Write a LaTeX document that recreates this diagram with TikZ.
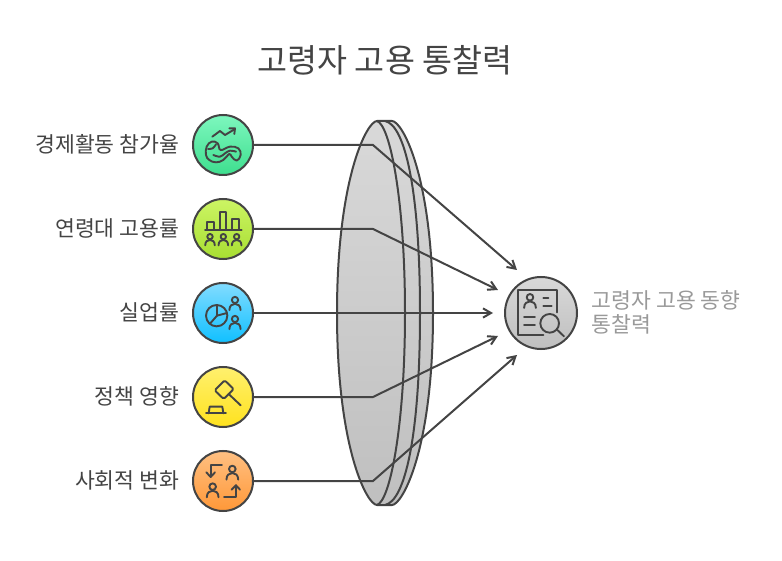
\documentclass[tikz,border=0pt]{standalone}
\usepackage{fontspec}
\setmainfont{Noto Sans CJK KR}
\usetikzlibrary{arrows.meta}
\definecolor{ink}{HTML}{444444}
\tikzset{
  x=1pt,y=-1pt,
  conn/.style={draw=ink,line width=2pt,line join=miter},
  tip/.style={-{Straight Barb[length=8pt,width=16pt,line width=2pt,angle'=60]}},
  badge/.style={circle,draw=ink,line width=2pt,minimum size=60pt,inner sep=0pt},
  lab/.style={text=ink,font=\fontsize{21.6}{25}\selectfont,anchor=east,inner sep=0pt},
  icon/.style={draw=ink,line width=1.9pt,line cap=round,line join=round},
  lensf/.style={draw=ink,line width=2pt,line join=round},
  zoomed/.style={x=0.3333pt,y=-0.3333pt},
}
\newcommand{\personz}[3]{% cx, top of head y, scale
  \draw[icon] (#1,#2) circle[radius=#3*9];
  \draw[icon] (#1-#3*16,#2+#3*29) .. controls (#1-#3*16,#2+#3*16) and (#1-#3*8,#2+#3*11) .. (#1,#2+#3*11) .. controls (#1+#3*8,#2+#3*11) and (#1+#3*16,#2+#3*16) .. (#1+#3*16,#2+#3*29);
}
\begin{document}
\begin{tikzpicture}
\useasboundingbox (0,0) rectangle (782,561);
% lens
\path[top color=white!85!black,bottom color=white!75!black]
 (377,121) -- (392,121) .. controls (402,121) and (433,175) .. (433,313) .. controls (433,451) and (402,505) .. (392,505) -- (377,505) .. controls (367,505) and (337,448) .. (337,313) .. controls (337,178) and (367,121) .. (377,121) -- cycle;
\draw[lensf] (377,121) -- (392,121) .. controls (402,121) and (433,175) .. (433,313) .. controls (433,451) and (402,505) .. (392,505) -- (377,505) .. controls (367,505) and (337,448) .. (337,313) .. controls (337,178) and (367,121) .. (377,121) -- cycle;
\draw[lensf] (377,121) .. controls (390,125) and (405,200) .. (405,313) .. controls (405,426) and (390,501) .. (377,505);
\draw[lensf] (385,121) .. controls (405,125) and (420,190) .. (420,313) .. controls (420,436) and (405,501) .. (385,505);
% title
\node[text=ink,font=\fontsize{32.6}{38}\selectfont,inner sep=0pt] (title) at (385,60) {고령자 고용 통찰력};
% badges
\node[badge,top color={rgb,255:red,125;green,247;blue,190},bottom color={rgb,255:red,62;green,222;blue,142}] (n1) at (223,145) {};
\node[badge,top color={rgb,255:red,204;green,245;blue,100},bottom color={rgb,255:red,168;green,222;blue,50}] (n2) at (223,229) {};
\node[badge,top color={rgb,255:red,130;green,220;blue,255},bottom color={rgb,255:red,16;green,192;blue,255}] (n3) at (223,313) {};
\node[badge,top color={rgb,255:red,255;green,240;blue,110},bottom color={rgb,255:red,255;green,226;blue,30}] (n4) at (223,397) {};
\node[badge,top color={rgb,255:red,255;green,192;blue,130},bottom color={rgb,255:red,255;green,152;blue,56}] (n5) at (223,481) {};
\node[badge,minimum size=72pt,top color=white!85!black,bottom color=white!75!black] (t) at (541,313) {};
% labels
\node[lab] (l1) at (179.5,144) {경제활동 참가율};
\node[lab] (l2) at (179.5,228) {연령대 고용률};
\node[lab] (l3) at (179.5,312) {실업률};
\node[lab] (l4) at (179.5,396) {정책 영향};
\node[lab] (l5) at (179.5,480) {사회적 변화};
\node[text=white!60!black,font=\fontsize{21.6}{24}\selectfont,anchor=north west,align=left,inner sep=0pt] (tl) at (591.5,290) {고령자 고용 동향\\통찰력};
% connectors
\coordinate (b1) at (373,145); \coordinate (e1) at (517,270);
\coordinate (b2) at (373,229); \coordinate (e2) at (498,290);
\coordinate (e3) at (493,313);
\coordinate (b4) at (373,397); \coordinate (e4) at (498,336);
\coordinate (b5) at (373,481); \coordinate (e5) at (517,355);
\draw[conn,tip] (n1.east) -- (b1) -- (e1);
\draw[conn,tip] (n2.east) -- (b2) -- (e2);
\draw[conn,tip] (n3.east) -- (e3);
\draw[conn,tip] (n4.east) -- (b4) -- (e4);
\draw[conn,tip] (n5.east) -- (b5) -- (e5);
% icon 1
\begin{scope}[shift={(180,105)},zoomed]
\draw[icon] (97,95) -- (120,78) -- (135,90) -- (165,72);
\draw[icon] (148,70) -- (165,70) -- (163,87);
\draw[icon] plot[smooth cycle,tension=0.7] coordinates {(78,150) (80,125) (95,110) (113,115) (122,135) (150,125) (175,130) (182,150) (170,167) (155,155) (148,147) (130,165) (108,172) (88,165)};
\draw[icon] plot[smooth,tension=0.7] coordinates {(84,132) (98,130) (108,118)};
\draw[icon] plot[smooth,tension=0.7] coordinates {(100,150) (120,155) (135,145) (150,137) (168,140)};
\end{scope}
% icon 2
\begin{scope}[shift={(180,105)},zoomed]
\draw[icon] (75,375) -- (185,375);
\draw[icon] (81,375) rectangle (102,350);
\draw[icon] (120,375) rectangle (138,320);
\draw[icon] (157,375) rectangle (177,343);
\personz{90}{395}{0.9}
\personz{130}{395}{0.9}
\personz{170}{395}{0.9}
\end{scope}
% icon 3
\begin{scope}[shift={(180,275)},zoomed]
\draw[icon] (110,122) circle[radius=32];
\draw[icon] (111,91) -- (111,122) -- (141,114);
\draw[icon] (111,122) -- (90,146);
\personz{165}{75}{1.05}
\personz{165}{132}{1.05}
\end{scope}
% icon 4
\begin{scope}[shift={(180,360)},zoomed]
\draw[icon,rounded corners=1.5pt] (134,61) -- (161,87) -- (131,117) -- (104,91) -- cycle;
\draw[icon] (146,102) -- (182,136);
\draw[icon] (78,160) -- (138,160);
\draw[icon] (86,160) -- (89,140) -- (127,140) -- (130,160);
\end{scope}
% icon 5
\begin{scope}[shift={(180,440)},zoomed]
\draw[icon] (126,75) -- (92,75) -- (92,110);
\draw[icon] (79,97) -- (92,111) -- (105,97);
\personz{157}{87}{1.1}
\draw[icon] (132,170) -- (168,170) -- (168,136);
\draw[icon] (155,149) -- (168,136) -- (180,149);
\personz{98}{140}{1.1}
\end{scope}
% target icon
\begin{scope}[shift={(480,255)},zoomed]
\draw[icon] (190,240) -- (114,240) -- (114,105) -- (230,105) -- (230,172);
\personz{150}{127}{1.1}
\draw[icon] (190,130) -- (205,130);
\draw[icon] (190,154) -- (215,154);
\draw[icon] (132,185) -- (165,185);
\draw[icon] (132,210) -- (165,210);
\draw[icon] (209,205) circle[radius=28];
\draw[icon] (231,224) -- (252,244);
\end{scope}
\end{tikzpicture}
\end{document}
